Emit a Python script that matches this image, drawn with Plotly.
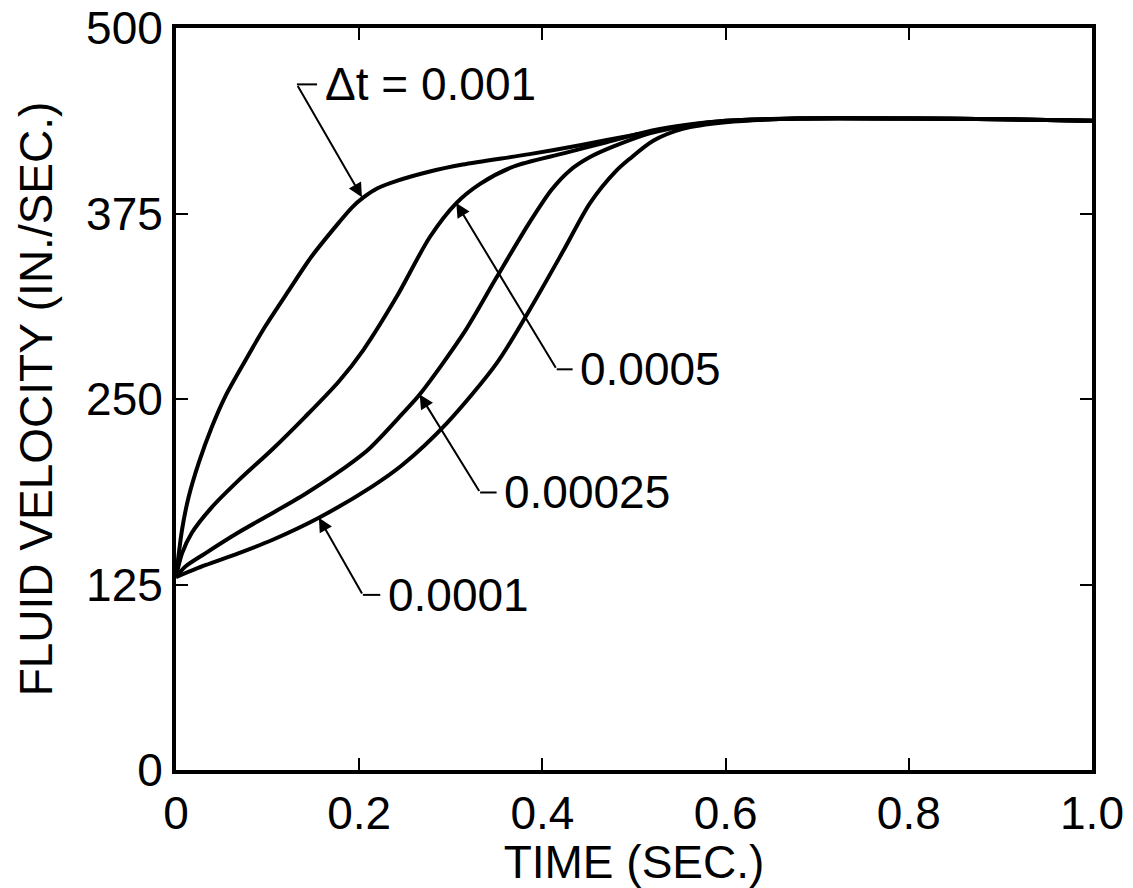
import plotly.graph_objects as go

# ---- data ----
t_a = [0, 0.0066, 0.0138, 0.0248, 0.039, 0.054, 0.0757, 0.0975, 0.123, 0.148, 0.178, 0.192, 0.205, 0.22, 0.241, 0.275, 0.313, 0.386, 0.441, 0.50, 0.553, 0.60, 0.68, 0.80, 0.90, 1.0]
v_a = [130, 162, 184, 207, 231, 252, 276, 299, 323, 346, 369, 379, 386, 392, 397, 403, 408, 415, 421, 428, 434, 437, 439, 439, 438.5, 437.5]

t_b = [0, 0.0066, 0.0175, 0.039, 0.068, 0.105, 0.141, 0.178, 0.2045, 0.241, 0.277, 0.306, 0.332, 0.368, 0.423, 0.47, 0.52, 0.56, 0.60, 0.68, 0.80, 0.90, 1.0]
v_b = [130, 146, 160, 177, 195, 216, 238, 262, 283, 319, 359, 382, 395, 406.5, 415.5, 423, 431, 435, 437.5, 439, 439, 438.5, 437.5]

t_c = [0, 0.01, 0.032, 0.068, 0.105, 0.141, 0.178, 0.21, 0.247, 0.266, 0.3137, 0.35, 0.386, 0.41, 0.43, 0.452, 0.477, 0.517, 0.56, 0.60, 0.68, 0.80, 0.90, 1.0]
v_c = [130, 137, 146, 160, 173, 186, 201, 216, 240, 253, 294, 332, 369, 391, 404, 413, 420, 429, 434.5, 437.5, 439, 439, 438.5, 437.5]

t_d = [0, 0.032, 0.068, 0.105, 0.156, 0.214, 0.247, 0.2955, 0.35, 0.386, 0.423, 0.452, 0.481, 0.4956, 0.521, 0.553, 0.60, 0.68, 0.80, 0.90, 1.0]
v_d = [130, 138, 146, 155, 170, 191, 205.5, 233.6, 274, 310, 350, 382, 404, 412, 424, 432, 436.5, 439, 439, 438.5, 437.5]

series = [(t_a, v_a), (t_b, v_b), (t_c, v_c), (t_d, v_d)]

x_ticks = [0, 0.2, 0.4, 0.6, 0.8, 1.0]
x_labels = ["0", "0.2", "0.4", "0.6", "0.8", "1.0"]
y_ticks = [0, 125, 250, 375, 500]
y_labels = ["0", "125", "250", "375", "500"]

# annotation labels: text, arrow tip (t, v), elbow (t, v), stub end t
labels = ["\u0394t = 0.001", "0.0005", "0.00025", "0.0001"]
tips = [(0.203, 386), (0.306, 382), (0.266, 253), (0.156, 170)]
elbows = [(0.132, 462), (0.4156, 270), (0.332, 187), (0.204, 118)]
stub_ends = [0.154, 0.433, 0.350, 0.223]

FONT = "Liberation Sans"

fig = go.Figure()
for t, v in series:
    fig.add_trace(go.Scatter(x=t, y=v, mode="lines",
                             line=dict(color="black", width=4, shape="spline", smoothing=0.8),
                             showlegend=False, hoverinfo="skip"))

for txt, tip, elb, se in zip(labels, tips, elbows, stub_ends):
    fig.add_annotation(x=tip[0], y=tip[1], ax=elb[0], ay=elb[1],
                       xref="x", yref="y", axref="x", ayref="y",
                       text="", showarrow=True, arrowhead=2, arrowsize=1.4,
                       arrowwidth=2, arrowcolor="black")
    fig.add_shape(type="line", x0=elb[0], y0=elb[1], x1=se, y1=elb[1],
                  xref="x", yref="y", line=dict(color="black", width=2))
    fig.add_annotation(x=se + 0.006, y=elb[1], xref="x", yref="y", text=txt,
                       showarrow=False, xanchor="left", yanchor="middle",
                       font=dict(family=FONT, size=46, color="black"))

axis_common = dict(showline=True, linewidth=4, linecolor="black", mirror="ticks",
                   ticks="inside", ticklen=12, tickwidth=2, tickcolor="black",
                   showgrid=False, zeroline=False, automargin=False,
                   tickfont=dict(family=FONT, size=46, color="black"))

fig.update_xaxes(range=[0, 1.0], tickvals=x_ticks, ticktext=x_labels,
                 title=dict(text="TIME (SEC.)", font=dict(family=FONT, size=46, color="black"), standoff=14),
                 **axis_common)
fig.update_yaxes(range=[0, 500], tickvals=y_ticks, ticktext=y_labels,
                 title=dict(text="FLUID VELOCITY (IN./SEC.)", font=dict(family=FONT, size=46, color="black"), standoff=20),
                 **axis_common)

fig.update_layout(template="none", width=1133, height=888,
                  margin=dict(l=176, r=41, t=28, b=118),
                  plot_bgcolor="white", paper_bgcolor="white")

fig.write_html("out.html")
